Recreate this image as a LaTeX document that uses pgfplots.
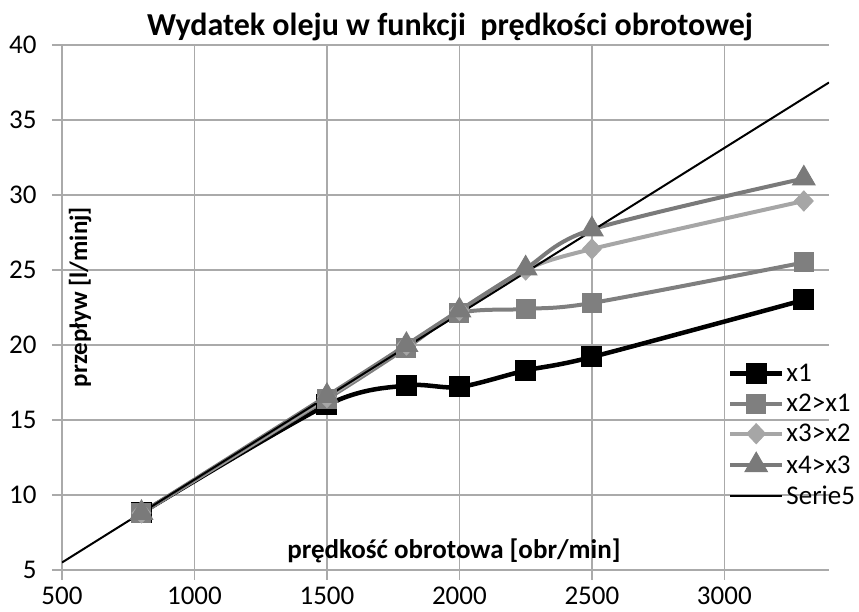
\documentclass[border=0pt]{standalone}
\usepackage{fontspec}
\setmainfont{Carlito}
\usepackage{pgfplots}
\pgfplotsset{compat=1.18}
\usetikzlibrary{calc}
\definecolor{gA}{RGB}{127,127,127}
\definecolor{gB}{RGB}{166,166,166}
\definecolor{gC}{RGB}{122,122,122}
\definecolor{gridc}{RGB}{170,170,170}
\begin{document}
\begin{tikzpicture}
\begin{axis}[
    scale only axis,
    width=767pt, height=525pt,
    xmin=500, xmax=3395,
    ymin=5, ymax=40,
    xtick={500,1000,...,3000},
    ytick={5,10,...,40},
    grid=major,
    major grid style={draw=gridc, line width=1.4pt},
    axis x line*=bottom, axis y line*=left,
    axis line style={draw=gridc, line width=1.4pt},
    tick align=outside,
    major tick length=10pt,
    xtick style={draw=gridc, line width=1.4pt},
    ytick style={draw=gridc, line width=1.4pt},
    /pgf/number format/assume math mode=true,
    /pgf/number format/set thousands separator={},
    tick label style={font=\fontsize{27}{32}\selectfont},
    xticklabel style={yshift=-3pt},
    yticklabel style={xshift=-12pt},
    title={Wydatek oleju w funkcji\ \ prędkości obrotowej},
    title style={font=\bfseries\fontsize{32}{38}\selectfont, at={(rel axis cs:0.506,1)}, anchor=center, yshift=12pt},
    xlabel={prędkość obrotowa [obr/min]},
    xlabel style={font=\bfseries\fontsize{27}{32}\selectfont, at={(rel axis cs:0.511,0.036)}, anchor=center},
    ylabel={przepływ [l/minj]},
    ylabel style={font=\bfseries\fontsize{25}{30}\selectfont, at={(rel axis cs:0.0235,0.52)}, anchor=center},
    legend style={at={(rel axis cs:0.868,0.396)}, anchor=north west, draw=none, fill=none,
        font=\fontsize{27}{32}\selectfont, row sep=7pt, inner sep=0pt,
        nodes={inner sep=2pt}},
    legend cell align=left,
    legend image code/.code={\draw[mark repeat=2,mark phase=2] plot coordinates {(0pt,0pt)(26pt,0pt)(52pt,0pt)};},
]
\addplot[black, line width=4.5pt, smooth, mark=square*, mark size=10pt,
    mark options={solid, fill=black, draw=black, line width=1pt}]
  coordinates {(800,8.8) (1500,16.0) (1800,17.3) (2000,17.2) (2250,18.3) (2500,19.2) (3300,23.0)};
\addlegendentry{x1}
\addplot[gA, line width=4pt, smooth, mark=square*, mark size=9.5pt,
    mark options={solid, fill=gA, draw=gA, line width=1pt}]
  coordinates {(800,8.8) (1500,16.4) (1800,19.8) (2000,22.1) (2250,22.4) (2500,22.8) (3300,25.5)};
\addlegendentry{x2>x1}
\addplot[gB, line width=4pt, smooth, mark=diamond*, mark size=10pt,
    mark options={solid, fill=gB, draw=gB, line width=1pt, xscale=1.25}]
  coordinates {(800,8.8) (1500,16.5) (1800,20.0) (2000,22.3) (2250,25.0) (2500,26.4) (3300,29.6)};
\addlegendentry{x3>x2}
\addplot[gC, line width=4pt, smooth, mark=triangle*, mark size=13pt,
    mark options={solid, fill=gC, draw=gC, line width=1pt}]
  coordinates {(800,8.8) (1500,16.6) (1800,20.0) (2000,22.3) (2250,25.1) (2500,27.7) (3300,31.1)};
\addlegendentry{x4>x3}
\addplot[black, line width=2pt]
  coordinates {(500,5.5) (3395,37.5)};
\addlegendentry{Serie5}
\end{axis}
\pgfresetboundingbox
\path ($(current axis.south west)+(-62pt,-42pt)$) rectangle ($(current axis.north east)+(30pt,45pt)$);
\end{tikzpicture}
\end{document}
